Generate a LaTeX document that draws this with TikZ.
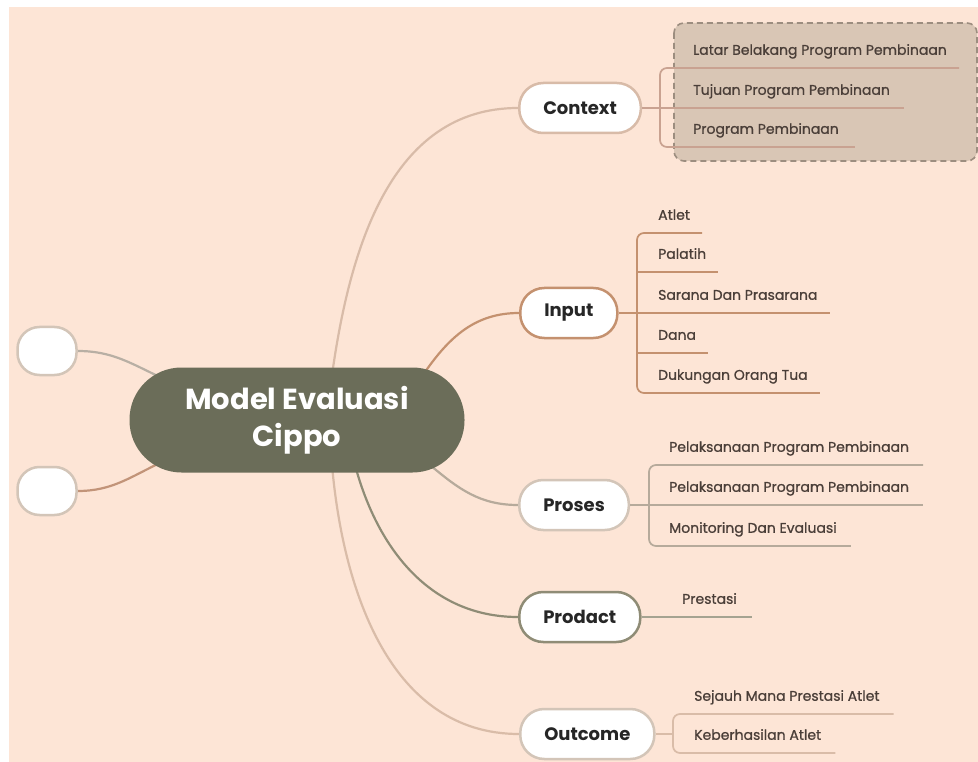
\documentclass[tikz,border=0pt]{standalone}
\usepackage{fontspec}
\setmainfont{Poppins}
\newfontfamily\leaffont{Poppins}[FakeBold=0.9]
\usetikzlibrary{backgrounds}
\definecolor{paper}{HTML}{FDE5D6}
\definecolor{cippofill}{HTML}{6B6D59}
\definecolor{contextc}{HTML}{D8BBA8}
\definecolor{contexttwig}{HTML}{C9A291}
\definecolor{inputc}{HTML}{C4916F}
\definecolor{prosesc}{HTML}{B6AA9B}
\definecolor{prodactc}{HTML}{8F8C76}
\definecolor{outcomec}{HTML}{D9BCA8}
\definecolor{sidetop}{HTML}{B8AFA4}
\definecolor{sidebot}{HTML}{C29479}
\definecolor{nodeline}{HTML}{D3C5B8}
\definecolor{leaftext}{HTML}{4A3E38}
\definecolor{boxfill}{HTML}{D9C6B5}
\definecolor{boxline}{HTML}{9C8D7F}
\tikzset{
  topic/.style={draw=nodeline, line width=2.5pt, fill=white, rounded corners=24pt,
    minimum height=50pt, inner xsep=24pt, anchor=west,
    font=\fontsize{18}{21}\selectfont\bfseries, text=black!85},
  side/.style={draw=nodeline, line width=2.5pt, fill=white, rounded corners=22pt,
    minimum width=59pt, minimum height=48pt},
  leaf/.style={anchor=south west, inner xsep=0pt, inner ysep=10pt, text height=10pt,
    text depth=3pt, font=\leaffont\fontsize{14}{16}\selectfont, text=leaftext},
  branch/.style={line width=2.2pt},
  twig/.style={line width=1.7pt, rounded corners=7pt}
}

\begin{document}
\begin{tikzpicture}[x=1pt, y=-1pt]
  \useasboundingbox (0,0) rectangle (978,762);
  % centre and topics
  \node[fill=cippofill, rounded corners=52pt, minimum width=335pt, minimum height=105pt,
    align=center, text=white, font=\fontsize{29}{37}\selectfont\bfseries] (cippo) at (297,420) {Model Evaluasi\\Cippo};
  \node[side] (sidea) at (47,351) {};
  \node[side] (sideb) at (47,491) {};
  \node[topic, draw=contextc] (context) at (518,108) {Context};
  \node[topic, draw=inputc] (input) at (519,313) {Input};
  \node[topic] (proses) at (518,505) {Proses};
  \node[topic, draw=prodactc] (prodact) at (518,617) {Prodact};
  \node[topic] (outcome) at (519,734) {Outcome};
  % branches
  \begin{scope}[on background layer]
    \fill[paper] (9,7) rectangle (978,762);
    \filldraw[fill=boxfill, draw=boxline, line width=1.6pt, dash pattern=on 6pt off 4pt, rounded corners=10pt] (674,23) rectangle (977,161);
    \draw[branch, contextc] ([shift={(35,-45)}]cippo.center) to[out=82, in=180] (context.west);
    \draw[branch, inputc] ([shift={(128,-48)}]cippo.center) to[out=55, in=180] (input.west);
    \draw[branch, prosesc] ([shift={(133,45)}]cippo.center) to[out=-40, in=180] (proses.west);
    \draw[branch, prodactc] ([shift={(58,45)}]cippo.center) to[out=-75, in=180] (prodact.west);
    \draw[branch, outcomec] ([shift={(35,45)}]cippo.center) to[out=-85, in=180] (outcome.west);
    \draw[branch, sidetop] ([shift={(-135,-42)}]cippo.center) to[out=155, in=0] (sidea.east);
    \draw[branch, sidebot] ([shift={(-135,42)}]cippo.center) to[out=-155, in=0] (sideb.east);
  \end{scope}
  % context leaves
  \coordinate (cbar) at (660,0);
  \node[leaf] (ct1) at (693,68) {Latar Belakang Program Pembinaan};
  \node[leaf] (ct2) at (693,108) {Tujuan Program Pembinaan};
  \node[leaf] (ct3) at (693,147) {Program Pembinaan};
  \draw[twig, contexttwig] ([xshift=12pt]ct1.south east) -- (ct1.south west -| cbar) -- (ct3.south west -| cbar) -- ([xshift=16pt]ct3.south east);
  \draw[twig, contexttwig] (context.east) -- ([xshift=14pt]ct2.south east);
  % input leaves
  \coordinate (ibar) at (637,0);
  \node[leaf] (in1) at (658,233) {Atlet};
  \node[leaf] (in2) at (658,272) {Palatih};
  \node[leaf] (in3) at (658,313) {Sarana Dan Prasarana};
  \node[leaf] (in4) at (658,353) {Dana};
  \node[leaf] (in5) at (658,393) {Dukungan Orang Tua};
  \draw[twig, inputc] ([xshift=12pt]in1.south east) -- (in1.south west -| ibar) -- (in5.south west -| ibar) -- ([xshift=12pt]in5.south east);
  \draw[twig, inputc] (in2.south west -| ibar) -- ([xshift=12pt]in2.south east);
  \draw[twig, inputc] (input.east) -- ([xshift=12pt]in3.south east);
  \draw[twig, inputc] (in4.south west -| ibar) -- ([xshift=12pt]in4.south east);
  % proses leaves
  \coordinate (pbar) at (649,0);
  \node[leaf] (ps1) at (669,465) {Pelaksanaan Program Pembinaan};
  \node[leaf] (ps2) at (669,505) {Pelaksanaan Program Pembinaan};
  \node[leaf] (ps3) at (669,546) {Monitoring Dan Evaluasi};
  \draw[twig, prosesc] ([xshift=14pt]ps1.south east) -- (ps1.south west -| pbar) -- (ps3.south west -| pbar) -- ([xshift=14pt]ps3.south east);
  \draw[twig, prosesc] (proses.east) -- ([xshift=14pt]ps2.south east);
  % prodact leaf
  \node[leaf] (pr1) at (682,617) {Prestasi};
  \draw[twig, prodactc!80] (prodact.east) -- ([xshift=15pt]pr1.south east);
  % outcome leaves
  \coordinate (obar) at (673,0);
  \node[leaf] (oc1) at (694,714) {Sejauh Mana Prestasi Atlet};
  \node[leaf] (oc2) at (694,753) {Keberhasilan Atlet};
  \draw[twig, outcomec] ([xshift=14pt]oc1.south east) -- (oc1.south west -| obar) -- (oc2.south west -| obar) -- ([xshift=14pt]oc2.south east);
  \draw[twig, outcomec] (outcome.east) -- (outcome.east -| obar);
\end{tikzpicture}
\end{document}
